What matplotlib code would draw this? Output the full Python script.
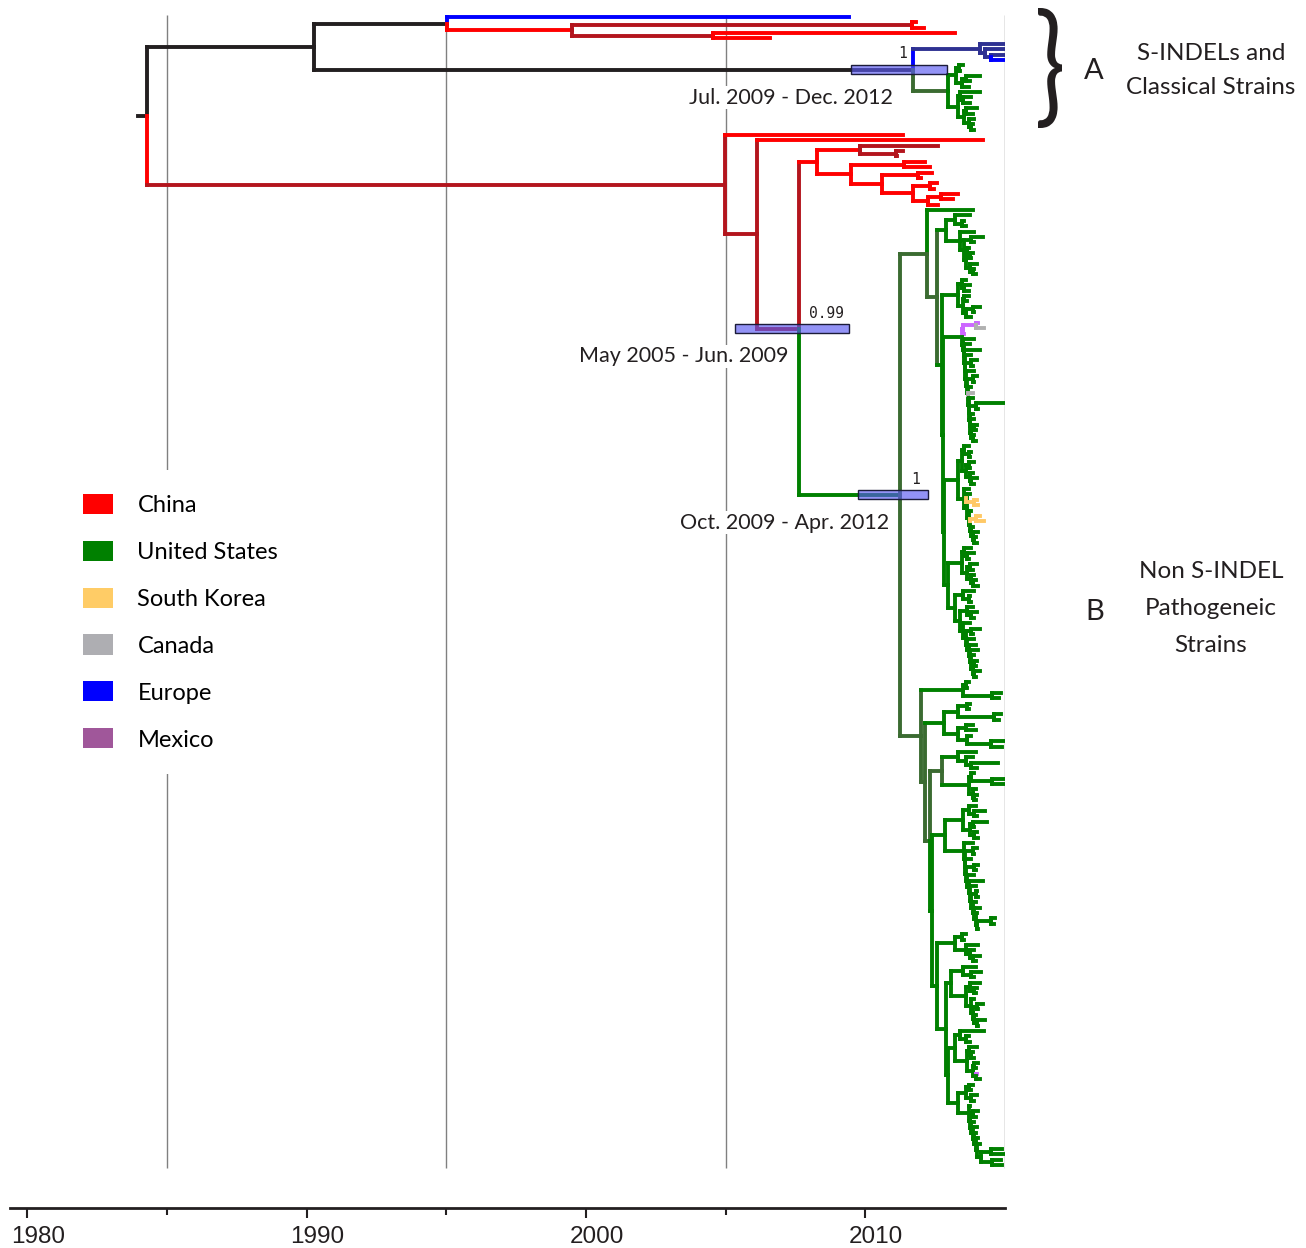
import re
import matplotlib
matplotlib.use('Agg')
import matplotlib.pyplot as plt
from matplotlib.collections import LineCollection
from matplotlib.patches import Patch, PathPatch
from matplotlib.textpath import TextPath
from matplotlib.font_manager import FontProperties
from matplotlib.transforms import Affine2D, ScaledTranslation

# Dated tree, written as nested groups: "(child,child)date".
# Each date is a decimal year; an optional one or two letter colour code follows it
# (vertical then horizontal colour), and "@name" tags nodes that carry an HPD bar.
# Nodes without a code take the horizontal colour of their parent.

a_red = "((2011.8r,2012.1r)2011.67R,(2013.2r,2006.6r)2004.55R)1999.5r"
a_navy = "(2014.97,(2014.97,(2014.95,2014.97b)2014.5)2014.3)2014.1bB"
a_green_top = "((2013.5,2013.4)2013.35,((2014.1,2013.75)2013.6,2013.7)2013.45)2013.25g"
a_green_bot = ("((2014.1,(2013.8,2013.75)2013.5)2013.4,((2014.0,2013.85)2013.6,"
               "(2013.9,(2013.85,2013.9)2013.8)2013.7)2013.55)2013.3g")
a_clade = (f"((2009.42b,{a_red})1995.03k,({a_navy},({a_green_top},{a_green_bot})2012.95G)"
           "2011.7k@hpd1)1990.26k")

cn_860 = "(2012.6R,(2011.35,2011.15)2011.1R)2009.8r"
cn_853 = ("((2012.15,2012.3)2011.4,((2012.4,2012.0)2011.9,((2012.55,2012.45)2012.3,"
          "((2013.3,2013.15)2012.7,2012.6)2012.25)2011.7)2010.6)2009.5r")

us_c1 = ("((2013.75,(2013.55,2013.6)2013.45)2013.2,(2013.9,((2014.2,2013.9)2013.8,"
         "((2013.7,(2013.85,2013.8)2013.75)2013.65,(2014.0,(2013.9,2013.95)2013.85)2013.75)"
         "2013.6)2013.55)2013.4)2012.9Gg")
us_c2 = ("((2013.6,(2013.75,2013.7)2013.55)2013.45,((2013.7,2013.65)2013.55,"
         "((2014.1,2013.9)2013.85,2013.8)2013.6)2013.5)2013.3")
c3_purple = "((2014.05p,2014.25s)2013.95p,2013.55p)2013.48p"
c3_ladder = ("(2013.9,(2013.75,(2014.1,(2013.8,((2014.0,2013.85)2013.8,(2013.9,((2014.0,2013.9)2013.85,"
             "(2013.8,(2013.85s,(2013.85,((2014.97,2014.05)2013.95,(2013.85,(2013.9,((2014.0,2013.95)2013.9,"
             "(2013.9,2013.95)2013.85)2013.78)2013.76)2013.74)2013.72)2013.7)2013.68)2013.66)2013.64)"
             "2013.6)2013.58)2013.56)2013.54)2013.52)2013.5")
us_c3 = f"({c3_purple},{c3_ladder})2013.45"
c4_top = ("((2013.7,(2013.8,2013.75)2013.7)2013.55,((2013.9,2013.75)2013.7,"
          "(2013.85,(2014.0,2013.9)2013.8)2013.75)2013.6)2013.45")
c4_bottom = ("(2013.7,((2013.75,(2014.0y,2014.05y)2013.9y)2013.6,(2013.8,((2014.1y,2014.25y)2013.95y,"
             "(2013.85,(2014.05,(2013.95,2014.0)2013.9)2013.85)2013.8)2013.75)2013.7)2013.65)2013.55")
us_c4 = f"({c4_top},{c4_bottom})2013.3"
c5_top = ("((2013.8,(2013.9,2013.7)2013.65)2013.55,((2014.0,2013.85)2013.75,"
          "(2013.9,(2013.95,2014.05)2013.85)2013.8)2013.65)2013.45")
c5_bottom = ("((2013.9,(2013.75,2013.8)2013.7)2013.5,((2013.85,(2014.0,2013.9)2013.8)2013.65,"
             "(2013.75,((2014.1,2013.85)2013.8,(2013.9,(2013.95,(2014.05,(2013.9,((2014.0,2013.95)2013.9,"
             "(2014.1,2013.95)2013.9)2013.85)2013.8)2013.75)2013.7)2013.65)2013.6)2013.5)2013.4)2013.2")
us_c5 = f"({c5_top},{c5_bottom})2012.96"

us_d1 = "((2013.7,2013.65)2013.6,(2014.85,2014.8)2014.55)2013.5Gg"
us_d2 = ("(((2013.75,2013.7)2013.65,(2014.85,2014.8)2014.6)2013.3,((2013.85,2013.95)2013.6,"
         "(2013.8,(2014.95,2014.9)2014.5)2013.65)2013.3)2012.8Gg")
us_d3 = ("((2013.95,(2013.85,(2014.75,2014.0)2013.8)2013.6)2013.3Gg,((2013.9,(2014.95,2014.97)2014.55)2013.8,"
         "(2013.95,(2014.0,2013.95)2013.9)2013.85)2013.7Gg)2012.75G")
d4_top = ("((2013.95,(2014.3,2014.0)2013.9)2013.7,((2014.35,2013.9)2013.85,"
          "(2014.0,2014.05)2013.9)2013.75)2013.5")
d4_ladder = ("(2013.85,((2014.0,2013.9)2013.85,(2013.8,((2014.05,2013.95)2013.9,(2013.9,(2014.2,"
             "(2013.95,((2014.0,2014.05)2013.95,(2013.95,(2014.1,(2014.0,((2014.65,2014.6)2014.5,2014.05)"
             "2014.0)2013.95)2013.9)2013.85)2013.8)2013.75)2013.7)2013.65)2013.6)2013.58)2013.56)2013.55")
us_d4 = f"({d4_top},{d4_ladder})2012.85"
e1 = "((2013.6,2013.55)2013.45,(2014.05,(2013.9,(2014.1,2013.95)2013.85)2013.75)2013.6)2013.2"
e2 = ("((2013.95,(2014.15,2013.9)2013.8)2013.5,((2014.1,(2014.0,2013.95)2013.9)2013.75,"
      "(2013.9,((2014.2,2014.05)2014.0,(2013.95,(2014.3,2014.05)2014.0)2013.9)2013.85)2013.8)2013.6)2013.05")
e3 = ("((2014.25,(2013.7,2013.75)2013.6)2013.4,((2014.0,(2013.85,2013.9)2013.8)2013.7,"
      "((2014.05,2013.95)2013.9,(2014.0p,2014.1)2013.95)2013.85)2013.65)2013.2")
e4 = ("(((2013.85,2013.8)2013.7,(2014.0,2013.9)2013.8)2013.6,(2013.75,((2014.05,2013.95)2013.85,"
      "(2013.9,(2014.0,(2013.95,(2014.05,(2014.1,((2014.9,2014.95)2014.5,(2014.85,2014.9)2014.55)"
      "2014.15)2014.0)2013.95)2013.9)2013.85)2013.8)2013.75)2013.7)2013.3")
us_d5 = f"({e1},({e2},({e3},{e4})2012.95)2012.9)2012.55"

us_up = (f"(2013.85g,({us_c1},({us_c2},({us_c3},({us_c4},{us_c5})2012.8g)2012.78g)2012.75Gg)"
         "2012.57G)2012.2G")
us_low = f"({us_d1},({us_d2},({us_d3},({us_d4},{us_d5})2012.4g)2012.33G)2012.15G)2011.98G"
us_clade = f"({us_up},{us_low})2011.24g@hpd3"
cn_clade = (f"(2011.35Rr,(2014.22Rr,(({cn_860},{cn_853})2008.27Rr,{us_clade})2007.63R@hpd2)"
            "2006.12R)2004.98rR")
tree_text = f"({a_clade},{cn_clade})1984.28k"
root_stub_year = 1983.96

# 95% HPD intervals of three node ages and their posterior support
hpd_nodes = ['hpd1', 'hpd2', 'hpd3']
hpd_lower = [2009.50, 2005.33, 2009.75]
hpd_upper = [2012.92, 2009.42, 2012.25]
hpd_labels = ['Jul. 2009 - Dec. 2012', 'May 2005 - Jun. 2009', 'Oct. 2009 - Apr. 2012']
posteriors = ['1', '0.99', '1']

countries = ['China', 'United States', 'South Korea', 'Canada', 'Europe', 'Mexico']
country_colors = ['#ff0000', '#008000', '#ffcc66', '#aeaeb2', '#0000ff', '#a0579a']

year_ticks = [1980, 1990, 2000, 2010]
minor_years = [1985, 1995, 2005]
grid_years = [1985, 1995, 2005, 2015]

branch_colors = {'k': '#231f20', 'r': '#ff0000', 'R': '#b3151d', 'g': '#008000',
                 'G': '#3b6b31', 'b': '#0000ff', 'B': '#2e3192', 'y': '#ffc966',
                 'p': '#cc66ff', 's': '#b0b0b0'}

node_token = re.compile(r'(\d+(?:\.\d+)?)([A-Za-z]{0,2})(?:@(\w+))?')


def parse_tree(text):
    text = re.sub(r'\s+', '', text)
    pos = 0

    def read_node():
        nonlocal pos
        kids = []
        if text[pos] == '(':
            pos += 1
            kids.append(read_node())
            while text[pos] == ',':
                pos += 1
                kids.append(read_node())
            pos += 1
        m = node_token.match(text, pos)
        pos = m.end()
        return {'date': float(m.group(1)), 'code': m.group(2), 'tag': m.group(3), 'kids': kids}

    return read_node()


def place(node, parent_colour, leaves):
    code = node['code'] or parent_colour
    node['vcol'], node['hcol'] = code[0], code[-1]
    for kid in node['kids']:
        place(kid, node['hcol'], leaves)
    if node['kids']:
        node['y'] = (node['kids'][0]['y'] + node['kids'][-1]['y']) / 2
    else:
        node['y'] = len(leaves)
        leaves.append(node)


def collect(node, segs, cols, tagged):
    if node['tag']:
        tagged[node['tag']] = node
    for kid in node['kids']:
        segs.append([(node['date'], node['y']), (node['date'], kid['y'])])
        cols.append(branch_colors[kid['vcol']])
        segs.append([(node['date'], kid['y']), (kid['date'], kid['y'])])
        cols.append(branch_colors[kid['hcol']])
        collect(kid, segs, cols, tagged)


root = parse_tree(tree_text)
leaves = []
place(root, 'k', leaves)
n_leaves = len(leaves)
segs, cols, tagged = [], [], {}
segs.append([(root_stub_year, root['y']), (root['date'], root['y'])])
cols.append(branch_colors['k'])
collect(root, segs, cols, tagged)

W, H = 1306, 1248
fig = plt.figure(figsize=(W / 100, H / 100), dpi=100)
ax = fig.add_axes([10 / W, 40 / H, 995 / W, 1203 / H])

step = 1148 / (n_leaves - 1)
ax.set_xlim(1979.38, 2015.0)
ax.set_ylim(n_leaves - 1 + 43 / step, -12 / step)

ax.vlines(grid_years, -0.4, n_leaves - 0.4, colors='#808080', linewidth=1.0, zorder=0)
ax.add_collection(LineCollection(segs, colors=cols, linewidths=2.8,
                                 capstyle='projecting', zorder=2))

# HPD bars with support values and date ranges
post_offsets = [(-7.5, 11.5), (20, 11), (11, 11)]
for tag, lo, hi, label, post, off in zip(hpd_nodes, hpd_lower, hpd_upper,
                                         hpd_labels, posteriors, post_offsets):
    node = tagged[tag]
    ax.barh([node['y']], [hi - lo], left=[lo], height=9 / step,
            color=(0.35, 0.35, 0.95, 0.65), edgecolor='#1c1c3a', linewidth=1.0, zorder=3)
    ax.annotate(post, (node['date'], node['y']), xytext=off, textcoords='offset points',
                ha='center', va='center', fontsize=10.5, family='DejaVu Sans Mono',
                color='#231f20', zorder=4)
    ax.annotate(label, ((lo + hi) / 2, node['y']), xytext=(-78, -20), textcoords='offset points',
                ha='center', va='center', fontsize=15.5, family='Lato', color='#231f20',
                bbox=dict(facecolor='white', edgecolor='none', pad=1), zorder=4)

for side in ['top', 'right', 'left']:
    ax.spines[side].set_visible(False)
ax.spines['bottom'].set_linewidth(2.0)
ax.spines['bottom'].set_color('#231f20')
ax.set_yticks([])
ax.set_xticks(year_ticks)
ax.set_xticks(minor_years, minor=True)
ax.tick_params(axis='x', which='major', length=7, width=1.5, pad=6,
               labelsize=17.5, colors='#231f20')
ax.tick_params(axis='x', which='minor', length=5, width=1.5, colors='#231f20')
shift = ScaledTranslation(11 / 100, 0, fig.dpi_scale_trans)
for lab in ax.get_xticklabels():
    lab.set_family('Liberation Sans')
    lab.set_transform(lab.get_transform() + shift)

handles = [Patch(facecolor=c, edgecolor='none') for c in country_colors]
ax.legend(handles, countries, loc='upper left', bbox_to_anchor=(59 / W, 1 - 470 / H),
          bbox_transform=fig.transFigure, frameon=True, facecolor='white', edgecolor='none',
          framealpha=1, prop={'family': 'Lato', 'size': 17}, handlelength=1.27,
          handleheight=0.93, handletextpad=1.05, labelspacing=1.05, borderpad=1.0,
          borderaxespad=0)


def put_text(x, y, s, size):
    fig.text(x / W, 1 - y / H, s, ha='center', va='center', fontsize=size,
             family='Lato', color='#231f20')


put_text(1094, 71, 'A', 21)
put_text(1211, 53, 'S-INDELs and', 17.5)
put_text(1211, 88, 'Classical Strains', 17.5)
put_text(1095, 612, 'B', 21)
put_text(1211, 572, 'Non S-INDEL', 17.5)
put_text(1211, 609, 'Pathogeneic', 17.5)
put_text(1211, 645, 'Strains', 17.5)

# curly brace beside clade A, stretched to span its rows
brace = TextPath((0, 0), '}', size=100, prop=FontProperties(family='Lato'))
ext = brace.get_extents()
fit = (Affine2D().translate(-ext.x0, -ext.y0)
       .scale(24 / ext.width, 120 / ext.height)
       .translate(1038, H - 128)
       .scale(1 / 100))
fig.add_artist(PathPatch(fit.transform_path(brace), facecolor='#231f20',
                         edgecolor='none', transform=fig.dpi_scale_trans))

fig.savefig('out.png', dpi=100)
